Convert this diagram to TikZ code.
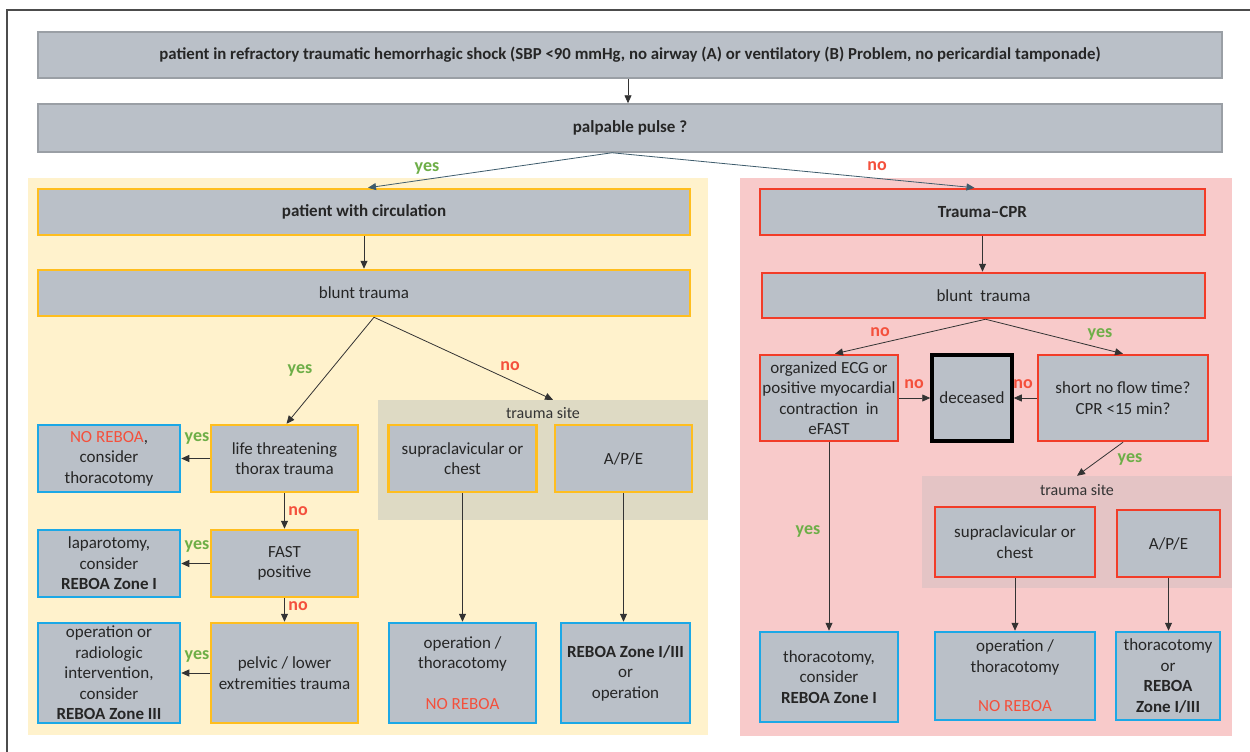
\documentclass[tikz,border=0pt]{standalone}
\usepackage{fontspec}
\setmainfont{Carlito}
\usetikzlibrary{arrows.meta}
\pgfdeclarelayer{bg}
\pgfsetlayers{bg,main}

\definecolor{boxgray}{HTML}{BAC0C8}
\definecolor{headline}{HTML}{9A9FA5}
\definecolor{circpanel}{HTML}{FFF2CC}
\definecolor{cprpanel}{HTML}{F8CACA}
\definecolor{circsite}{HTML}{DEDAC4}
\definecolor{cprsite}{HTML}{E4C4C5}
\definecolor{circline}{HTML}{FFBE1E}
\definecolor{cprline}{HTML}{F23C28}
\definecolor{endline}{HTML}{1CA8E6}
\definecolor{yesgreen}{HTML}{6DAE47}
\definecolor{nored}{HTML}{F4503C}
\definecolor{pulseline}{HTML}{3E5C6C}
\definecolor{arrline}{HTML}{333333}

\tikzset{
  flow/.style={rectangle, fill=boxgray, inner sep=0pt, align=center,
    font=\fontsize{17}{20.5}\selectfont, text=black!85},
  headbox/.style={flow, draw=headline, line width=1.5pt},
  circbox/.style={flow, draw=circline, line width=2.5pt},
  cprbox/.style={flow, draw=cprline, line width=2.5pt},
  endbox/.style={flow, draw=endline, line width=2.5pt},
  deadbox/.style={flow, draw=black, line width=3.5pt},
  panel/.style={rectangle, inner sep=0pt},
  arr/.style={-{Triangle[length=8pt,width=7pt]}, draw=arrline, line width=0.8pt},
  yeslab/.style={text=yesgreen, font=\fontsize{18}{20}\selectfont\bfseries},
  nolab/.style={text=nored, font=\fontsize{18}{20}\selectfont\bfseries},
  sitelab/.style={font=\fontsize{16}{18}\selectfont, text=black!80},
}
\newcommand{\noreboa}{\textcolor{nored}{NO REBOA}}

\begin{document}
\begin{tikzpicture}[x=1pt, y=-1pt]
  \useasboundingbox (0,0) rectangle (1250,752);

  % common start
  \node[headbox, minimum width=1184pt, minimum height=46pt, font=\fontsize{16.8}{20}\selectfont\bfseries] (shock) at (630,55)
    {patient in refractory traumatic hemorrhagic shock (SBP <90 mmHg, no airway (A) or ventilatory (B) Problem, no pericardial tamponade)};
  \node[headbox, minimum width=1184pt, minimum height=48pt, font=\fontsize{17}{20}\selectfont\bfseries] (pulse) at (630,128) {palpable pulse ?};

  \begin{pgfonlayer}{bg}
    \fill[white] (0,0) rectangle (1250,752);
    \draw[black!70, line width=1.5pt] (7,752) -- (7,10) -- (1250,10);
    \node[panel, fill=circpanel, minimum width=680pt, minimum height=557pt] (circpan) at (368,456.5) {};
    \node[panel, fill=cprpanel, minimum width=492pt, minimum height=558pt] (cprpan) at (986,457) {};
    \node[panel, fill=circsite, minimum width=330pt, minimum height=120pt] (lsite) at (543,460) {};
    \node[panel, fill=cprsite, minimum width=310pt, minimum height=112pt] (rsite) at (1077,532) {};
  \end{pgfonlayer}

  % patient with circulation
  \node[circbox, minimum width=652pt, minimum height=46pt, font=\fontsize{17}{20}\selectfont\bfseries] (circ) at (364,212) {patient with circulation};
  \node[circbox, minimum width=652pt, minimum height=46pt] (lbt) at (364,293) {blunt trauma};
  \node[circbox, minimum width=147pt, minimum height=67pt] (thx) at (284.5,458.5) {life threatening\\thorax trauma};
  \node[circbox, minimum width=147pt, minimum height=67pt] (fast) at (284.5,563.5) {FAST\\positive};
  \node[circbox, minimum width=147pt, minimum height=100pt] (pelv) at (284.5,673) {pelvic / lower\\extremities trauma};
  \node[endbox, minimum width=142pt, minimum height=67pt] (thxres) at (109,458.5) {\noreboa,\\consider\\thoracotomy};
  \node[endbox, minimum width=142pt, minimum height=67pt] (fastres) at (109,563.5) {laparotomy,\\consider\\\textbf{REBOA Zone I}};
  \node[endbox, minimum width=142pt, minimum height=100pt] (pelvres) at (109,673) {operation or\\radiologic\\intervention,\\consider\\\textbf{REBOA Zone III}};
  \node[sitelab] (lsitelab) at (543,413) {trauma site};
  \node[circbox, minimum width=148pt, minimum height=67pt] (lsup) at (462.5,458.5) {supraclavicular or\\chest};
  \node[circbox, minimum width=137pt, minimum height=67pt] (lape) at (623.5,458.5) {A/P/E};
  \node[endbox, minimum width=147pt, minimum height=100pt] (lop) at (462.5,673) {operation /\\thoracotomy\\[20pt]\noreboa};
  \node[endbox, minimum width=129pt, minimum height=100pt] (lreb) at (625.5,673) {\textbf{REBOA Zone I/III}\\or\\operation};

  % trauma CPR
  \node[cprbox, minimum width=445pt, minimum height=46pt, font=\fontsize{17}{20}\selectfont\bfseries] (cpr) at (982.5,212) {Trauma--CPR};
  \node[cprbox, minimum width=443pt, minimum height=45pt] (rbt) at (983.5,295.5) {blunt~ trauma};
  \node[cprbox, minimum width=138pt, minimum height=86pt] (ecg) at (829,398) {organized ECG or\\positive myocardial\\contraction~ in\\eFAST};
  \node[deadbox, minimum width=80pt, minimum height=86pt] (dead) at (972,398) {deceased};
  \node[cprbox, minimum width=170pt, minimum height=86pt] (noflow) at (1123,398) {short no flow time?\\CPR <15 min?};
  \node[sitelab] (rsitelab) at (1077,490) {trauma site};
  \node[cprbox, minimum width=160pt, minimum height=70pt] (rsup) at (1015,542) {supraclavicular or\\chest};
  \node[cprbox, minimum width=103pt, minimum height=67pt] (rape) at (1168.5,543.5) {A/P/E};
  \node[endbox, minimum width=138pt, minimum height=90pt] (ecgres) at (829,677) {thoracotomy,\\consider\\\textbf{REBOA Zone I}};
  \node[endbox, minimum width=160pt, minimum height=88pt] (rop) at (1015,676) {operation /\\thoracotomy\\[19pt]\noreboa};
  \node[endbox, minimum width=104pt, minimum height=88pt] (rreb) at (1168,676) {thoracotomy\\or\\\textbf{REBOA}\\\textbf{Zone I/III}};

  % connectors
  \draw[arr] ([xshift=-2pt]shock.south) -- ([xshift=-2pt]pulse.north);
  \draw[arr, draw=pulseline] ([xshift=-18pt]pulse.south) -- ([xshift=4pt]circ.north);
  \draw[arr, draw=pulseline] ([xshift=-18pt]pulse.south) -- ([xshift=-8pt]cpr.north);
  \node[yeslab] (yes0) at (427,168) {yes};
  \node[nolab] (no0) at (877,166) {no};

  \draw[arr] (circ.south) -- (lbt.north);
  \draw[arr] ([xshift=10pt]lbt.south) -- ([xshift=2pt]thx.north);
  \draw[arr] ([xshift=10pt]lbt.south) -- ([xshift=10pt]lsite.north);
  \node[yeslab] (yes1) at (300,370) {yes};
  \node[nolab] (no1) at (510,366) {no};

  \draw[arr] (thx.west) -- (thxres.east);
  \draw[arr] (fast.west) -- (fastres.east);
  \draw[arr] (pelv.west) -- (pelvres.east);
  \node[yeslab] (yes2) at (197,438) {yes};
  \node[yeslab] (yes3) at (197,546) {yes};
  \node[yeslab] (yes4) at (197,656) {yes};
  \draw[arr] (thx.south) -- (fast.north);
  \draw[arr] (fast.south) -- (pelv.north);
  \node[nolab] (no2) at (298,511) {no};
  \node[nolab] (no3) at (298,606) {no};

  \draw[arr] (lsup.south) -- (lsup.south |- lop.north);
  \draw[arr] (lape.south) -- (lape.south |- lreb.north);

  \draw[arr] (cpr.south) -- (cpr.south |- rbt.north);
  \draw[arr] ([xshift=2pt]rbt.south) -- ([xshift=6pt]ecg.north);
  \draw[arr] ([xshift=2pt]rbt.south) -- (noflow.north);
  \node[nolab] (no4) at (880,332) {no};
  \node[yeslab] (yes5) at (1100,334) {yes};

  \draw[arr] (ecg.east) -- (dead.west);
  \draw[arr] (noflow.west) -- (dead.east);
  \node[nolab] (no5) at (914,384) {no};
  \node[nolab] (no6) at (1023,384) {no};

  \draw[arr] (noflow.south) -- (rsite.north);
  \node[yeslab] (yes6) at (1130,459) {yes};
  \draw[arr] (ecg.south) -- (ecgres.north);
  \node[yeslab] (yes7) at (808,531) {yes};
  \draw[arr] (rsup.south) -- (rop.north);
  \draw[arr] (rape.south) -- (rape.south |- rreb.north);
\end{tikzpicture}
\end{document}
